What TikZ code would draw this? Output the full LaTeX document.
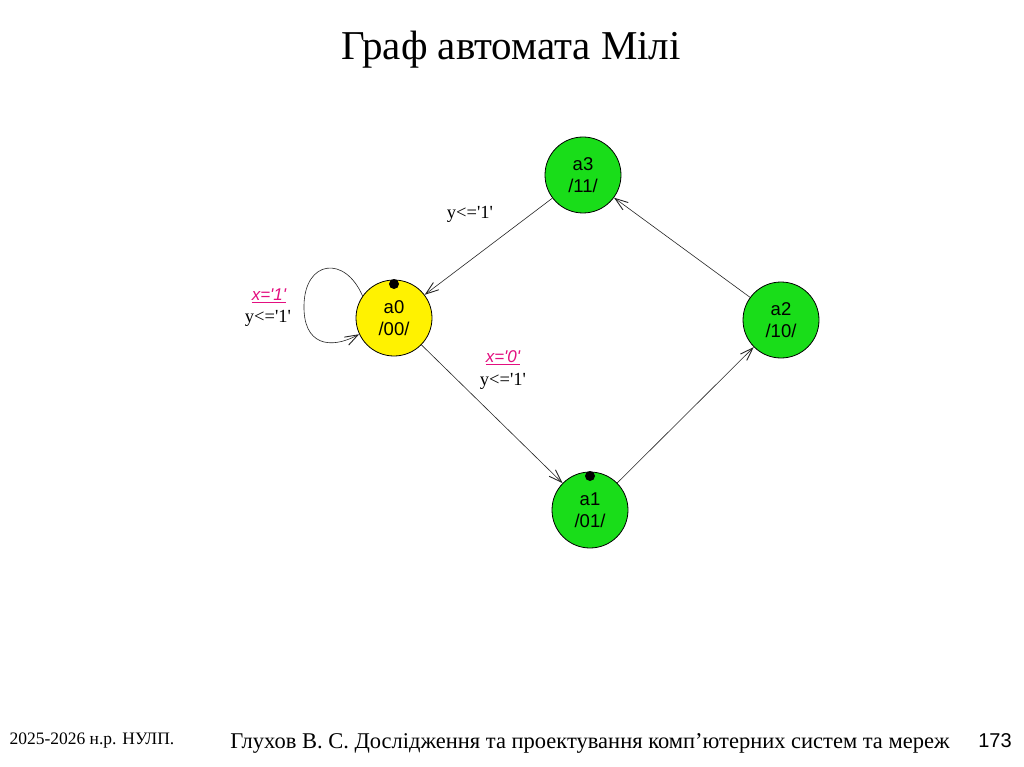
\documentclass[tikz,border=0pt]{standalone}
\usepackage{fontspec}
\setmainfont{Liberation Serif}
\newfontfamily\arialf{Liberation Sans}
\usetikzlibrary{arrows.meta}
\newcommand{\q}{\textquotesingle}
\begin{document}
\begin{tikzpicture}[x=1pt,y=-1pt,
  st/.style={circle,draw=black,line width=0.8pt,minimum size=76pt,inner sep=0pt,align=center,font=\arialf\fontsize{18.5}{22}\selectfont},
  tr/.style={draw=black!85,line width=0.6pt,-{Straight Barb[length=13pt,width=9pt,line width=0.9pt]}},
  cond/.style={font=\arialf\itshape\fontsize{17}{19}\selectfont,text=magenta!80!purple},
  act/.style={font=\fontsize{18.5}{20}\selectfont},
  dot/.style={circle,fill=black,minimum size=10pt,inner sep=0pt}]
\useasboundingbox (0,0) rectangle (1024,767);
\fill[white] (0,0) rectangle (1024,767);
\node (title) at (511,50) {\fontsize{41}{46}\selectfont Граф автомата Мілі};
\node[st,fill=green!85!black!90] (a3) at (583,175) {a3\\/11/};
\node[st,fill=yellow] (a0) at (394,318) {a0\\/00/};
\node[st,fill=green!85!black!90] (a2) at (781,320) {a2\\/10/};
\node[st,fill=green!85!black!90] (a1) at (590,510) {a1\\/01/};
\node[dot] (d0) at (394,284) {};
\node[dot] (d1) at (590,476) {};
\draw[tr] (a3) -- (a0);
\draw[tr] (a0) -- (a1);
\draw[tr] (a1) -- (a2);
\draw[tr] (a2) -- (a3);
\draw[tr] (a0.145) .. controls (345,255) and (305,260) .. (304,305) .. controls (303,345) and (330,350) .. (a0.205);
\node[act] (l1) at (470,214) {y<=\q1\q};
\node[cond] (c2) at (269,296) {\underline{x=\q1\q}};
\node[act] (l2) at (268,318) {y<=\q1\q};
\node[cond] (c3) at (503,358) {\underline{x=\q0\q}};
\node[act] (l3) at (503,381) {y<=\q1\q};
\node[anchor=west] (f1) at (6,741) {\fontsize{17.5}{20}\selectfont 2025-2026 н.р. НУЛП.};
\node (f2) at (590,743) {\fontsize{22.5}{26}\selectfont Глухов В. С. Дослідження та проектування комп’ютерних систем та мереж};
\node (f3) at (995,741) {\arialf\fontsize{20}{22}\selectfont 173};
\end{tikzpicture}
\end{document}
